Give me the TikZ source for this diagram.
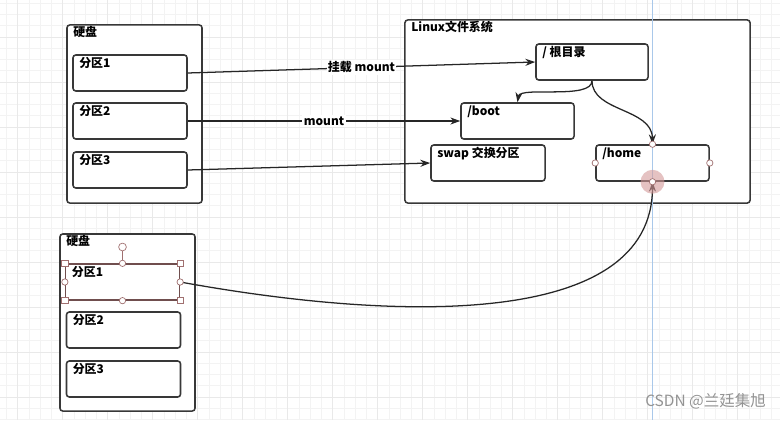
\documentclass[tikz,border=0pt]{standalone}
\usepackage{fontspec}
\setmainfont{Noto Sans CJK SC}
\usetikzlibrary{arrows.meta}
\definecolor{edge}{HTML}{383838}
\definecolor{gridminor}{HTML}{F3F3F3}
\definecolor{gridmajor}{HTML}{E9E9E9}
\definecolor{guide}{HTML}{A9C8EA}
\definecolor{handle}{HTML}{A07070}
\definecolor{glow}{HTML}{D49A9A}

\begin{document}
\begin{tikzpicture}[x=0.025cm, y=-0.025cm,
	font=\fontsize{8.5}{10}\selectfont\bfseries,
	box/.style = {draw=edge, fill=white, line width=1.1pt, rounded corners=2pt, inner sep=0pt},
	part/.style = {box, minimum width=2.85cm, minimum height=0.9cm},
	tag/.style = {anchor=north west, inner sep=0pt, xshift=0.17cm, yshift=-0.07cm},
	arr/.style = {draw=black!85, line width=0.9pt, -{Stealth[length=7pt,width=5pt]}},
	lbl/.style = {fill=white, inner sep=1pt},
	hnd/.style = {circle, draw=handle, fill=white, inner sep=0pt, minimum size=4.5pt, line width=0.5pt},
	hsq/.style = {rectangle, draw=handle, fill=white, inner sep=0pt, minimum size=4.5pt, line width=0.5pt},]
	
	\useasboundingbox (0,0) rectangle (780,420);
	\fill[white] (0,0) rectangle (780,420);
	\foreach \i in {0,...,69} \draw[gridminor, line width=0.5pt] ({6.45+\i*11.25},0) -- ++(0,420);
	\foreach \i in {0,...,37} \draw[gridminor, line width=0.5pt] (0,{3.25+\i*11.25}) -- ++(780,0);
	\foreach \i in {0,...,17} \draw[gridmajor, line width=0.6pt] ({17.7+\i*45},0) -- ++(0,420);
	\foreach \i in {0,...,9} \draw[gridmajor, line width=0.6pt] (0,{37+\i*45}) -- ++(780,0);
	
	\node[box, minimum width=3.375cm, minimum height=4.45cm, label={[tag, yshift=0.02cm]north west:硬盘}] (disk1) at (134.5,114) {};
	\node[part, label={[tag]north west:分区1}] (p11) at (130,73) {};
	\node[part, label={[tag]north west:分区2}] (p12) at (130,121) {};
	\node[part, label={[tag]north west:分区3}] (p13) at (130,170) {};
	
	\node[box, minimum width=8.625cm, minimum height=4.575cm, label={[tag, yshift=0.02cm]north west:Linux文件系统}] (linux) at (577.5,111.5) {};
	\node[part, minimum width=2.8cm, label={[tag]north west:/ 根目录}] (root) at (592,62) {};
	\node[part, minimum width=2.825cm, label={[tag]north west:/boot}] (boot) at (517.5,121) {};
	\node[part, label={[tag]north west:swap 交换分区}] (swap) at (488,163) {};
	\node[part, minimum width=2.825cm, label={[tag]north west:/home}] (home) at (652.5,163) {};
	
	\node[box, minimum width=3.375cm, minimum height=4.425cm, label={[tag, yshift=0.02cm]north west:硬盘}] (disk2) at (127.5,322.5) {};
	\node[part, draw=handle!70!black, rounded corners=0pt, line width=0.9pt, label={[tag]north west:分区1}] (p21) at (122.5,282) {};
	\node[part, label={[tag]north west:分区2}] (p22) at (123.5,330) {};
	\node[part, label={[tag]north west:分区3}] (p23) at (123.5,379) {};
	
	\coordinate (gtop) at (652,0);
	\coordinate (gbot) at (652,420);
	\draw[guide, line width=0.6pt] (gtop) -- (gbot);
	
	\draw[arr] (p11.east) -- node[lbl] {挂载 mount} (root.west);
	\draw[arr] (p12.east) -- node[lbl] {mount} (boot.west);
	\draw[arr] (p13.east) -- (swap.west);
	\draw[arr] (root.south) .. controls (592,100) and (520,86) .. (boot.north);
	\draw[arr] (root.south) .. controls (592,112) and (652,108) .. (home.north);
	\draw[arr] (p21.east) .. controls (400,322) and (652,328) .. (home.south);
	
	\fill[glow, opacity=0.6] (home.south) circle (8.5pt);
	\node[hnd] (h1) at (home.north) {};
	\node[hnd] (h2) at (home.west) {};
	\node[hnd] (h3) at (home.east) {};
	\node[hnd] (h4) at (home.south) {};
	
	\node[hnd, minimum size=5.5pt] (rot) at (122.5,247) {};
	\draw[handle, line width=0.6pt] (rot) -- (p21.north);
	\node[hsq] (s1) at (p21.north west) {};
	\node[hsq] (s2) at (p21.north east) {};
	\node[hsq] (s3) at (p21.south west) {};
	\node[hsq] (s4) at (p21.south east) {};
	\node[hnd] (m1) at (p21.north) {};
	\node[hnd] (m2) at (p21.south) {};
	\node[hnd] (m3) at (p21.west) {};
	\node[hnd] (m4) at (p21.east) {};
	
	\node[font=\fontsize{11}{12}\selectfont, text=gray!85, anchor=east, inner sep=0pt] (mark) at (766,401) {CSDN @兰廷集旭};
	
\end{tikzpicture}
\end{document}
